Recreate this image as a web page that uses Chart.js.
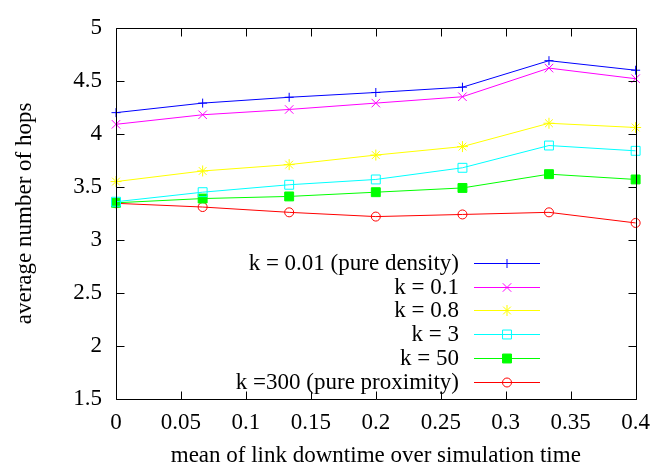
<!DOCTYPE html>
<html><head><meta charset="utf-8">
<script src="https://cdn.jsdelivr.net/npm/chart.js@4/dist/chart.umd.min.js"></script>
<style>html,body{margin:0;padding:0;background:#fff}#wrap{width:660px;height:470px}</style>
</head><body><div id="wrap"><canvas id="c" width="660" height="470"></canvas></div>
<script>
const xValues = [0, 0.0667, 0.1333, 0.2, 0.2667, 0.3333, 0.4];
const xTickValues = [0, 0.05, 0.1, 0.15, 0.2, 0.25, 0.3, 0.35, 0.4];
const xTickLabels = ['0', '0.05', '0.1', '0.15', '0.2', '0.25', '0.3', '0.35', '0.4'];
const yTickValues = [1.5, 2, 2.5, 3, 3.5, 4, 4.5, 5];
const yTickLabels = ['1.5', '2', '2.5', '3', '3.5', '4', '4.5', '5'];
const seriesNames = ['k = 0.01 (pure density)', 'k = 0.1', 'k = 0.8', 'k = 3', 'k = 50', 'k =300 (pure proximity)'];
const k001 = [4.20, 4.29, 4.345, 4.39, 4.44, 4.69, 4.60];
const k01  = [4.09, 4.18, 4.23, 4.29, 4.35, 4.62, 4.52];
const k08  = [3.55, 3.65, 3.71, 3.80, 3.88, 4.10, 4.06];
const k3   = [3.36, 3.45, 3.52, 3.57, 3.68, 3.89, 3.84];
const k50  = [3.35, 3.39, 3.41, 3.45, 3.49, 3.62, 3.57];
const k300 = [3.345, 3.31, 3.26, 3.22, 3.24, 3.26, 3.16];
const xTitle = 'mean of link downtime over simulation time';
const yTitle = 'average number of hops';

const FONT = {family: "'Liberation Serif', 'Times New Roman', serif", size: 23};
const styles = [
  {color: '#0000ff', pointStyle: 'cross', radius: 4.5, fill: false},
  {color: '#ff00ff', pointStyle: 'crossRot', radius: 6, fill: false},
  {color: '#ffff00', pointStyle: 'star', radius: 5.5, fill: false},
  {color: '#00ffff', pointStyle: 'rect', radius: 6.3, fill: false},
  {color: '#00ff00', pointStyle: 'rect', radius: 6.3, fill: true},
  {color: '#ff0000', pointStyle: 'circle', radius: 4.5, fill: false}
];
const seriesData = [k001, k01, k08, k3, k50, k300];

const datasets = seriesData.map((vals, i) => ({
  label: seriesNames[i],
  data: vals.map((v, j) => ({x: xValues[j], y: v})),
  borderColor: styles[i].color,
  backgroundColor: styles[i].fill ? styles[i].color : 'rgba(0,0,0,0)',
  pointBorderColor: styles[i].color,
  pointBackgroundColor: styles[i].fill ? styles[i].color : 'rgba(0,0,0,0)',
  pointStyle: styles[i].pointStyle,
  pointRadius: styles[i].radius,
  pointBorderWidth: 1,
  borderWidth: 1,
  tension: 0,
  fill: false,
  clip: false
}));

function drawMarker(ctx, st, x, y) {
  ctx.save();
  ctx.strokeStyle = st.color;
  ctx.fillStyle = st.fill ? st.color : 'rgba(0,0,0,0)';
  ctx.lineWidth = 1;
  if (Chart.helpers && Chart.helpers.drawPoint) {
    Chart.helpers.drawPoint(ctx, {pointStyle: st.pointStyle, radius: st.radius, rotation: 0, borderWidth: 1}, x, y);
  } else {
    const r = st.radius;
    ctx.beginPath();
    if (st.pointStyle === 'circle') { ctx.arc(x, y, r, 0, Math.PI * 2); }
    else if (st.pointStyle === 'rect') { const s = r * Math.SQRT1_2; ctx.rect(x - s, y - s, 2 * s, 2 * s); if (st.fill) ctx.fill(); }
    else { ctx.moveTo(x - r, y); ctx.lineTo(x + r, y); ctx.moveTo(x, y - r); ctx.lineTo(x, y + r); }
    ctx.stroke();
  }
  ctx.restore();
}

const framePlugin = {
  id: 'frame',
  afterDatasetsDraw(chart) {
    const ctx = chart.ctx, a = chart.chartArea;
    const xs = chart.scales.x, ys = chart.scales.y;
    const L = Math.round(a.left) + 0.5, R = Math.round(a.right) + 0.5;
    const T = Math.round(a.top) + 0.5, B = Math.round(a.bottom) + 0.5;
    ctx.save();
    ctx.strokeStyle = '#000';
    ctx.lineWidth = 1;
    ctx.beginPath();
    ctx.rect(L, T, R - L, B - T);
    const tl = 8;
    xTickValues.forEach(v => {
      const px = Math.round(xs.getPixelForValue(v)) + 0.5;
      ctx.moveTo(px, B); ctx.lineTo(px, B - tl);
      ctx.moveTo(px, T); ctx.lineTo(px, T + tl);
    });
    yTickValues.forEach(v => {
      const py = Math.round(ys.getPixelForValue(v)) + 0.5;
      ctx.moveTo(L, py); ctx.lineTo(L + tl, py);
      ctx.moveTo(R, py); ctx.lineTo(R - tl, py);
    });
    ctx.stroke();
    ctx.restore();
  },
  afterDraw(chart) {
    const ctx = chart.ctx;
    const textRight = 459, lineL = 474, lineR = 540, markX = 507;
    const rowY0 = 263, rowStep = 23.7;
    ctx.save();
    ctx.font = FONT.size + 'px ' + FONT.family;
    ctx.textAlign = 'right';
    ctx.textBaseline = 'middle';
    seriesNames.forEach((name, i) => {
      const y = rowY0 + i * rowStep;
      ctx.fillStyle = '#000';
      ctx.fillText(name, textRight, y + 1);
      ctx.strokeStyle = styles[i].color;
      ctx.lineWidth = 1;
      ctx.beginPath();
      ctx.moveTo(lineL, Math.round(y) + 0.5);
      ctx.lineTo(lineR, Math.round(y) + 0.5);
      ctx.stroke();
      drawMarker(ctx, styles[i], markX, Math.round(y) + 0.5);
    });
    ctx.restore();
  }
};

new Chart(document.getElementById('c'), {
  type: 'line',
  data: {datasets},
  options: {
    responsive: false,
    animation: false,
    devicePixelRatio: 1,
    layout: {padding: {top: 19, right: 20, left: 0, bottom: 0}},
    plugins: {legend: {display: false}, tooltip: {enabled: false}},
    scales: {
      x: {
        type: 'linear', min: 0, max: 0.4,
        afterBuildTicks: s => { s.ticks = xTickValues.map(v => ({value: v})); },
        afterFit: s => { s.height = 71; },
        grid: {display: false, drawTicks: false},
        border: {display: false},
        ticks: {color: '#000', font: FONT, padding: 10, maxRotation: 0, autoSkip: false,
          callback: (v, i) => xTickLabels[i]},
        title: {display: true, text: xTitle, color: '#000', font: FONT, padding: {top: 0, bottom: 0}}
      },
      y: {
        type: 'linear', min: 1.5, max: 5,
        afterBuildTicks: s => { s.ticks = yTickValues.map(v => ({value: v})); },
        afterFit: s => { s.width = 116; },
        grid: {display: false, drawTicks: false},
        border: {display: false},
        ticks: {color: '#000', font: FONT, padding: 14, autoSkip: false,
          callback: (v, i) => yTickLabels[i]},
        title: {display: true, text: yTitle, color: '#000', font: FONT, padding: {top: 11, bottom: 0}}
      }
    }
  },
  plugins: [framePlugin]
});
</script>
</body></html>
